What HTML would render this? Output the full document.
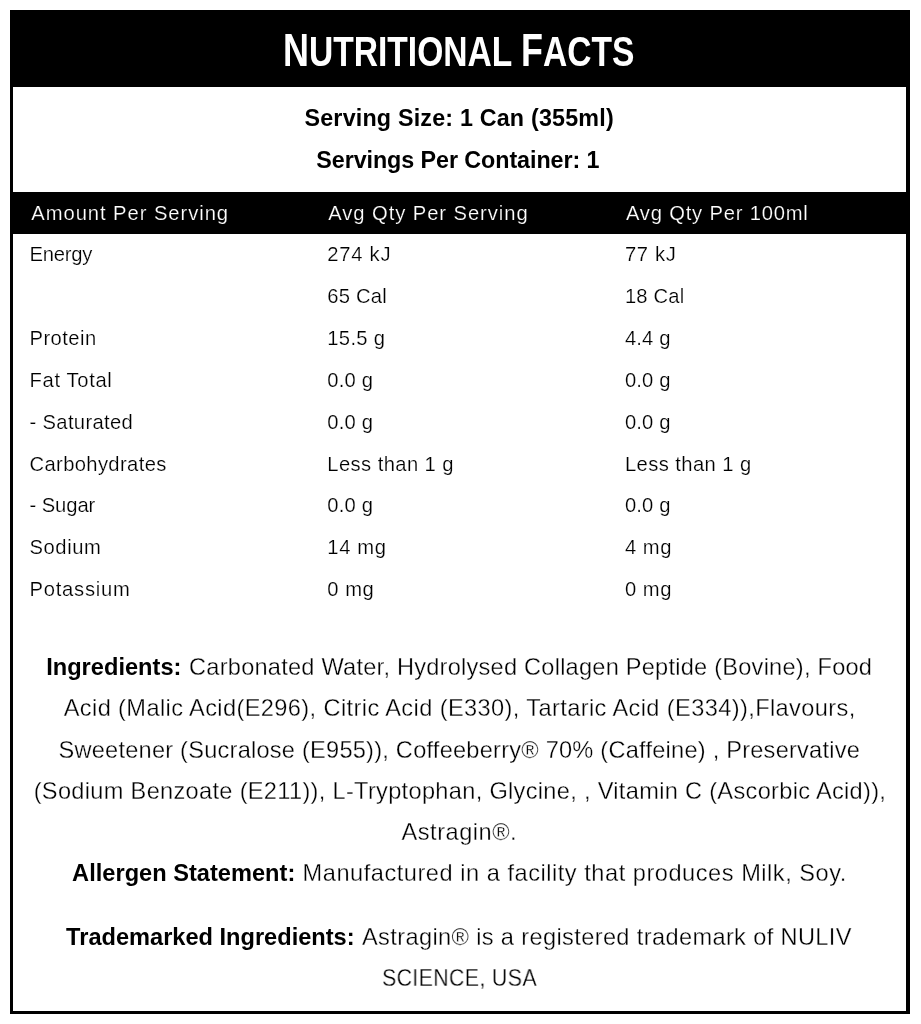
<!DOCTYPE html>
<html><head><meta charset="utf-8"><title>Nutritional Facts</title>
<style>
html,body{margin:0;padding:0;background:#fff;}
body{width:921px;height:1024px;position:relative;overflow:hidden;font-family:"Liberation Sans",sans-serif;}
.bd{position:absolute;background:#000;}
#bl{left:10px;top:10px;width:3px;height:1004px;}
#br{left:906.1px;top:10px;width:3.8px;height:1004px;}
#bb{left:10px;top:1011px;width:899.9px;height:3px;}
#hd{position:absolute;left:10px;top:10px;width:899.9px;height:76.5px;background:#000;}
#th{position:absolute;left:10px;top:192px;width:899.9px;height:42px;background:#000;}
.t{position:absolute;white-space:pre;}
.thin{-webkit-text-stroke:0.3px #fff;}
.tt{-webkit-text-stroke:0.2px #fff;}
.th{-webkit-text-stroke:0.2px #000;}
b{font-weight:bold;}
#title{position:absolute;left:0;top:0;}
#w{position:absolute;left:0;top:0;width:921px;height:1024px;will-change:transform;}
</style></head><body>
<div id="w">
<div class="bd" id="bl"></div><div class="bd" id="br"></div><div class="bd" id="bb"></div>
<div id="hd"></div>
<div id="th"></div>
<svg id="title" role="img" aria-label="Nutritional Facts" width="921" height="90" viewBox="0 0 921 90"><text x="283" y="66" font-family="'Liberation Sans', sans-serif" font-size="43" font-weight="bold" fill="#fff" textLength="351.5" lengthAdjust="spacingAndGlyphs"><tspan font-size="46">N</tspan>UTRITIONAL <tspan font-size="46">F</tspan>ACTS</text><path fill="#000" d="M0,0Z"/></svg>
<div class="t" id="s1" style="left:304.50px;top:107.00px;font-size:23.3px;line-height:23.3px;letter-spacing:0.188px;color:#000;font-weight:bold;">Serving Size: 1 Can (355ml)</div>
<div class="t" id="s2" style="left:316.30px;top:149.00px;font-size:23.3px;line-height:23.3px;letter-spacing:-0.067px;color:#000;font-weight:bold;">Servings Per Container: 1</div>
<div class="t th" id="h1" style="left:31.30px;top:203.00px;font-size:20.2px;line-height:20.2px;letter-spacing:0.947px;color:#fff;">Amount Per Serving</div>
<div class="t th" id="h2" style="left:328.30px;top:203.00px;font-size:20.2px;line-height:20.2px;letter-spacing:0.933px;color:#fff;">Avg Qty Per Serving</div>
<div class="t th" id="h3" style="left:625.90px;top:203.00px;font-size:20.2px;line-height:20.2px;letter-spacing:0.806px;color:#fff;">Avg Qty Per 100ml</div>
<div class="t tt" id="a0" style="left:29.50px;top:244.00px;font-size:20.2px;line-height:20.2px;letter-spacing:-0.220px;color:#000;">Energy</div>
<div class="t tt" id="b0" style="left:327.30px;top:244.00px;font-size:20.2px;line-height:20.2px;letter-spacing:0.740px;color:#000;">274 kJ</div>
<div class="t tt" id="c0" style="left:624.90px;top:244.00px;font-size:20.2px;line-height:20.2px;letter-spacing:0.675px;color:#000;">77 kJ</div>
<div class="t tt" id="b1" style="left:327.30px;top:286.00px;font-size:20.2px;line-height:20.2px;letter-spacing:0.220px;color:#000;">65 Cal</div>
<div class="t tt" id="c1" style="left:624.90px;top:286.00px;font-size:20.2px;line-height:20.2px;letter-spacing:0.200px;color:#000;">18 Cal</div>
<div class="t tt" id="a2" style="left:29.50px;top:328.00px;font-size:20.2px;line-height:20.2px;letter-spacing:0.442px;color:#000;">Protein</div>
<div class="t tt" id="b2" style="left:327.30px;top:328.00px;font-size:20.2px;line-height:20.2px;letter-spacing:0.320px;color:#000;">15.5 g</div>
<div class="t tt" id="c2" style="left:624.90px;top:328.00px;font-size:20.2px;line-height:20.2px;letter-spacing:0.150px;color:#000;">4.4 g</div>
<div class="t tt" id="a3" style="left:29.50px;top:370.00px;font-size:20.2px;line-height:20.2px;letter-spacing:0.663px;color:#000;">Fat Total</div>
<div class="t tt" id="b3" style="left:327.30px;top:370.00px;font-size:20.2px;line-height:20.2px;letter-spacing:0.175px;color:#000;">0.0 g</div>
<div class="t tt" id="c3" style="left:624.90px;top:370.00px;font-size:20.2px;line-height:20.2px;letter-spacing:0.150px;color:#000;">0.0 g</div>
<div class="t tt" id="a4" style="left:29.50px;top:412.00px;font-size:20.2px;line-height:20.2px;letter-spacing:0.340px;color:#000;">- Saturated</div>
<div class="t tt" id="b4" style="left:327.30px;top:412.00px;font-size:20.2px;line-height:20.2px;letter-spacing:0.175px;color:#000;">0.0 g</div>
<div class="t tt" id="c4" style="left:624.90px;top:412.00px;font-size:20.2px;line-height:20.2px;letter-spacing:0.150px;color:#000;">0.0 g</div>
<div class="t tt" id="a5" style="left:29.50px;top:454.00px;font-size:20.2px;line-height:20.2px;letter-spacing:0.367px;color:#000;">Carbohydrates</div>
<div class="t tt" id="b5" style="left:327.30px;top:454.00px;font-size:20.2px;line-height:20.2px;letter-spacing:0.417px;color:#000;">Less than 1 g</div>
<div class="t tt" id="c5" style="left:624.90px;top:454.00px;font-size:20.2px;line-height:20.2px;letter-spacing:0.425px;color:#000;">Less than 1 g</div>
<div class="t tt" id="a6" style="left:29.50px;top:495.00px;font-size:20.2px;line-height:20.2px;letter-spacing:-0.067px;color:#000;">- Sugar</div>
<div class="t tt" id="b6" style="left:327.30px;top:495.00px;font-size:20.2px;line-height:20.2px;letter-spacing:0.175px;color:#000;">0.0 g</div>
<div class="t tt" id="c6" style="left:624.90px;top:495.00px;font-size:20.2px;line-height:20.2px;letter-spacing:0.150px;color:#000;">0.0 g</div>
<div class="t tt" id="a7" style="left:29.50px;top:537.00px;font-size:20.2px;line-height:20.2px;letter-spacing:0.580px;color:#000;">Sodium</div>
<div class="t tt" id="b7" style="left:327.30px;top:537.00px;font-size:20.2px;line-height:20.2px;letter-spacing:0.625px;color:#000;">14 mg</div>
<div class="t tt" id="c7" style="left:624.90px;top:537.00px;font-size:20.2px;line-height:20.2px;letter-spacing:0.567px;color:#000;">4 mg</div>
<div class="t tt" id="a8" style="left:29.50px;top:579.00px;font-size:20.2px;line-height:20.2px;letter-spacing:0.762px;color:#000;">Potassium</div>
<div class="t tt" id="b8" style="left:327.30px;top:579.00px;font-size:20.2px;line-height:20.2px;letter-spacing:0.500px;color:#000;">0 mg</div>
<div class="t tt" id="c8" style="left:624.90px;top:579.00px;font-size:20.2px;line-height:20.2px;letter-spacing:0.567px;color:#000;">0 mg</div>
<div class="t" id="p1b" style="left:46.20px;top:656.00px;font-size:23.6px;line-height:23.6px;letter-spacing:0.018px;color:#000;font-weight:bold;">Ingredients:</div>
<div class="t thin" id="p1" style="left:189.10px;top:656.00px;font-size:23.6px;line-height:23.6px;letter-spacing:0.230px;color:#000;">Carbonated Water, Hydrolysed Collagen Peptide (Bovine), Food</div>
<div class="t thin" id="p2" style="left:63.70px;top:697.00px;font-size:23.6px;line-height:23.6px;letter-spacing:0.391px;color:#000;">Acid (Malic Acid(E296), Citric Acid (E330), Tartaric Acid (E334)),Flavours,</div>
<div class="t thin" id="p3" style="left:58.45px;top:739.00px;font-size:23.6px;line-height:23.6px;letter-spacing:0.232px;color:#000;">Sweetener (Sucralose (E955)), Coffeeberry® 70% (Caffeine) , Preservative</div>
<div class="t thin" id="p4" style="left:33.70px;top:780.00px;font-size:23.6px;line-height:23.6px;letter-spacing:0.311px;color:#000;">(Sodium Benzoate (E211)), L-Tryptophan, Glycine, , Vitamin C (Ascorbic Acid)),</div>
<div class="t thin" id="p5" style="left:401.50px;top:821.00px;font-size:23.6px;line-height:23.6px;letter-spacing:0.517px;color:#000;">Astragin®.</div>
<div class="t" id="p6b" style="left:72.10px;top:862.00px;font-size:23.6px;line-height:23.6px;letter-spacing:0.017px;color:#000;font-weight:bold;">Allergen Statement:</div>
<div class="t thin" id="p6" style="left:302.60px;top:862.00px;font-size:23.6px;line-height:23.6px;letter-spacing:0.524px;color:#000;">Manufactured in a facility that produces Milk, Soy.</div>
<div class="t" id="p7b" style="left:66.10px;top:926.00px;font-size:23.6px;line-height:23.6px;letter-spacing:-0.000px;color:#000;font-weight:bold;">Trademarked Ingredients:</div>
<div class="t thin" id="p7" style="left:362.00px;top:926.00px;font-size:23.6px;line-height:23.6px;letter-spacing:0.367px;color:#000;">Astragin® is a registered trademark of NULIV</div>
<div class="t thin" id="p8" style="left:382.30px;top:967.00px;font-size:23.6px;line-height:23.6px;letter-spacing:0.400px;color:#000;transform:scaleX(0.9044);transform-origin:0 0;">SCIENCE, USA</div>
</div>
</body></html>
